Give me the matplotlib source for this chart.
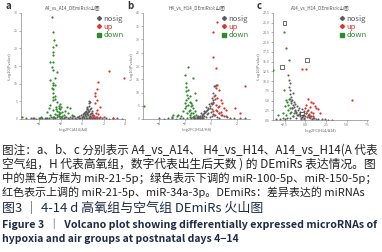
import matplotlib
matplotlib.use("Agg")
from matplotlib import pyplot as plt
from matplotlib.lines import Line2D

plt.rcParams['font.family'] = ['Noto Sans CJK SC', 'DejaVu Sans']

# colours
c_gray = '#5a5a5a'
c_up = '#e0302c'
c_down = '#2f8a2f'

# ---------- panel a : A4_vs_A14 ----------
a_down_x = [-2.82, -2.67, -2.6, -2.67, -2.4, -2.75, -2.67, -2.95, -2.75, -2.82, -2.67, -2.36,
            -2.5, -2.95, -2.75, -2.67, -2.5, -2.82, -2.67, -2.75, -2.55, -2.75, -2.67, -2.5,
            -2.36, -2.2, -2.4, -2.2, -2.05, -2.36, -2.2, -2.05, -1.9, -2.5, -2.67, -2.95,
            -3.1, -1.43, -1.1, -1.6, -1.3, -0.95, -0.81, -2.2, -1.9, -2.67, -3.8, -3.9,
            -5.6, -3.3, -2.1, -2.3, -2.0, -1.7, -3.0, -2.45, -2.15, -1.95]
a_down_y = [29.0, 24.5, 22.4, 20.5, 21.0, 19.0, 18.0, 16.2, 16.0, 14.8, 14.0, 13.4,
            11.5, 11.0, 10.1, 9.6, 9.7, 8.7, 8.5, 7.3, 6.6, 6.2, 5.4, 5.6,
            4.8, 3.7, 3.5, 3.2, 2.8, 2.4, 2.1, 1.6, 2.0, 1.5, 2.5, 3.9,
            3.0, 3.5, 3.0, 2.2, 1.8, 1.2, 0.8, 0.9, 0.8, 0.7, 0.7, 0.4,
            0.6, 2.0, 4.2, 1.0, 0.5, 1.2, 1.2, 2.9, 1.4, 3.4]
a_up_x = [2.5, 1.52, 3.9, 1.36, 1.2, 1.2, 1.36, 1.2, 1.67, 1.36, 1.05, 1.36, 1.67, 2.0, 2.9,
          0.9, 1.1, 1.25, 1.45]
a_up_y = [13.6, 10.6, 11.7, 8.4, 7.3, 6.4, 5.4, 4.4, 3.5, 2.5, 1.1, 0.6, 0.5, 0.6, 0.3,
          0.3, 0.9, 1.6, 1.3]
a_ns_x = [-5.2, -4.8, -4.5, -4.3, -4.0, -3.7, -3.5, -3.3, -3.1, -2.9, -2.7, -2.5, -2.3, -2.1,
          -1.9, -1.7, -1.5, -1.3, -1.1, -0.9, -0.7, -0.5, -0.4, -0.3, -0.2, -0.1, 0.0, 0.05,
          0.1, 0.15, 0.2, 0.25, 0.3, 0.35, 0.4, 0.45, 0.5, 0.55, 0.6, 0.65, 0.7, 0.75, 0.8,
          0.85, 0.9, 1.0, 1.1, 1.2, 1.4, 1.6, 1.9, 2.2, 2.5, 2.9, 3.3, 3.7, 0.5, 0.6, 0.7,
          0.45, 0.65, 0.55, 0.8, 0.4, 0.3, 0.75, 0.6, 0.5, 0.35, 0.9, 0.2, -0.6, -0.9, -1.2,
          -0.3, 0.0, 0.62, 0.72, 0.48, 0.58, -2.6, -2.2, -1.6, -0.8, 0.95, 1.3, -3.4, -4.6]
a_ns_y = [0.2, 0.15, 0.3, 0.1, 0.25, 0.2, 0.4, 0.15, 0.3, 0.5, 0.2, 0.35, 0.6, 0.25,
          0.4, 0.3, 0.5, 0.2, 0.6, 0.4, 0.3, 0.7, 0.5, 0.9, 0.4, 1.1, 0.6, 1.4,
          0.8, 1.7, 0.5, 1.2, 2.0, 0.9, 2.4, 1.5, 3.0, 1.0, 3.7, 2.2, 2.7, 1.3, 1.8,
          0.7, 1.0, 0.5, 0.4, 0.3, 0.2, 0.35, 0.15, 0.25, 0.1, 0.2, 0.15, 0.1, 0.3, 0.6, 0.4,
          2.8, 4.4, 2.0, 3.2, 1.9, 1.4, 0.9, 0.2, 1.7, 0.3, 1.6, 0.2, 0.1, 0.25, 0.1,
          0.2, 0.3, 5.2, 4.9, 3.4, 2.6, 0.6, 0.8, 0.7, 0.9, 2.2, 0.6, 0.4, 0.3]

# ---------- panel b : H4_vs_H14 ----------
b_down_x = [-1.75, -2.0, -1.375, -1.88, -1.93, -1.75, -1.88, -1.8, -1.63, -1.75, -1.88, -1.63,
            -1.5, -1.75, -1.5, -1.38, -1.63, -1.88, -2.0, -1.38, -1.25, -1.13, -1.63, -2.13,
            -2.25, -2.63, -2.88, -3.0, -2.5, -1.13, -1.25, -5.15, -1.55, -1.7, -1.45, -1.95,
            -1.3, -1.6, -1.4, -1.85]
b_down_y = [19.5, 16.6, 15.4, 13.5, 12.0, 11.0, 10.4, 9.1, 8.5, 7.9, 7.3, 6.6,
            6.0, 5.4, 4.8, 4.1, 3.5, 4.8, 6.0, 2.3, 2.9, 1.6, 1.6, 2.9,
            1.0, 1.0, 1.6, 0.8, 1.6, 7.2, 9.8, 5.0, 2.4, 3.0, 5.3, 4.1,
            1.1, 0.6, 0.9, 2.1]
b_up_x = [0.5, 0.18, 0.18, 0.38, 2.58, 0.5, 0.38, 0.63, 0.25, 0.5, 0.75, 0.13, 0.38, 0.63, 0.88,
          1.0, 1.13, 0.38, 0.63, 0.88, 1.13, 1.88, 2.25, 0.13, 0.25, 0.8, 0.55]
b_up_y = [36.6, 32.9, 23.5, 19.1, 12.5, 12.9, 11.6, 11.0, 8.5, 7.9, 7.3, 6.0, 5.4, 4.8, 6.0,
          4.1, 3.5, 3.5, 2.3, 1.6, 1.0, 4.1, 2.3, 2.9, 1.6, 2.7, 4.4]
b_ns_x = [0.33, 0.25, 0.4, 0.15, 0.3, 0.1, 0.2, 0.0, 0.05, -0.1, -0.2, -0.3, -0.4, -0.5,
          -0.6, -0.7, -0.8, -0.9, -1.0, -1.1, -1.2, -1.3, -0.75, -0.55, -0.35, -0.15, -0.65,
          -0.45, -0.25, -0.05, 0.15, 0.35, 0.5, 0.65, 0.8, 1.0, 1.2, 1.5, 1.8, 2.2, 2.6, -1.5,
          -1.8, -2.1, -2.4, -2.7, -3.0, -3.3, -3.6, -4.0, -0.85, -0.7, -0.6, -0.95, -0.5, -0.3,
          -0.2, 0.0, 0.1, -0.4, 0.05, 0.2, -0.1, -0.8, -1.05, -0.65, 0.3, 0.45, -1.4, 0.6]
b_ns_y = [12.6, 12.3, 12.8, 9.8, 9.0, 7.9, 7.0, 6.2, 5.5, 4.8, 4.0, 3.4, 2.9, 2.3,
          1.8, 1.4, 1.0, 0.7, 0.5, 0.4, 0.3, 0.2, 2.1, 3.2, 4.4, 5.6, 1.2,
          2.6, 3.8, 4.2, 6.5, 7.6, 3.0, 2.2, 1.6, 1.0, 0.7, 0.5, 0.4, 0.3, 0.2, 0.3,
          0.2, 0.4, 0.3, 0.15, 0.3, 0.2, 0.1, 0.2, 0.4, 0.9, 0.5, 1.3, 1.1, 1.7,
          2.4, 2.8, 3.6, 0.6, 1.2, 1.9, 0.9, 0.2, 0.8, 0.3, 1.4, 0.8, 0.6, 0.5]

# ---------- panel c : A14_vs_H14 ----------
c_box_x = [-2.5, -2.82, 0.2, -0.36]
c_box_y = [24.9, 13.6, 15.5, 1.7]
c_down_x = [-2.62, -2.38, -1.97, -3.9, -2.58, -2.38, -2.0, -2.1, -2.5, -2.7, -3.3, -2.3,
            -1.9, -1.7, -2.1, -1.5, -2.2, -1.8]
c_down_y = [22.6, 18.5, 15.5, 12.8, 7.7, 5.1, 5.5, 3.8, 3.6, 1.7, 1.3, 1.3,
            1.7, 2.1, 2.6, 1.0, 4.5, 3.0]
c_up_x = [-0.36, 0.04, 5.7, 0.32, 0.73, 0.93, 0.12, 0.53, 1.13, 1.33, 0.32, 0.73, 0.0, 1.53,
          1.73, 0.93, 0.12, 0.6, 1.0, 0.4]
c_up_y = [13.0, 13.0, 5.1, 5.5, 4.7, 4.3, 3.8, 3.4, 3.6, 3.0, 2.6, 2.1, 3.0, 2.8,
          1.7, 1.7, 1.7, 0.9, 1.1, 0.7]
c_ns_x = [-2.1, -1.97, -1.89, -1.97, -1.89, -1.81, -1.69, -1.89, -1.57, -1.69, -1.49, -1.41,
          -1.57, -1.29, -1.17, -1.09, -0.89, -1.49, -0.69, -0.28, -1.09, -1.89, -2.5, -3.1,
          -0.5, -0.4, -0.2, 0.0, 0.2, 0.4, 0.6, 0.8, 1.0, 1.3, 1.6, 2.0, 2.4, 2.8, -0.8,
          -1.2, -0.6, -0.3, -0.1, 0.1, 0.3, 0.5, -0.7, -0.9, -1.0, -1.3, -0.45, -0.15, 0.25,
          -1.35, -1.55, -1.7, -0.95, -0.55, 0.7, 1.1, -2.2, -2.7, -3.5, 3.2, -1.2, -1.45]
c_ns_y = [11.5, 10.2, 9.4, 8.5, 7.7, 6.8, 6.0, 5.5, 5.1, 4.3, 3.8, 3.4,
          3.0, 2.6, 2.1, 1.7, 1.3, 0.9, 0.9, 1.1, 0.4, 0.4, 0.3, 0.2,
          0.5, 0.8, 0.6, 1.0, 0.7, 0.9, 0.5, 0.3, 0.4, 0.2, 0.3, 0.15, 0.2, 0.1, 1.6,
          2.2, 2.0, 1.4, 2.4, 1.8, 1.2, 1.6, 3.0, 2.5, 3.5, 1.9, 2.9, 0.3, 2.3,
          4.6, 3.2, 5.0, 1.3, 0.2, 1.0, 0.6, 0.6, 0.4, 0.2, 0.1, 4.0, 7.0]

panels = [
    dict(tag='a', title='A4_vs_A14_DEmiRs火山图', xlabel='Log2FC(A14/A4)',
         rect=[21, 13, 125, 119], xlim=(-5.7, 4.0), ylim=(0, 30),
         xticks=[-4, -2, 0, 2, 4], yticks=[0, 5, 10, 15, 20, 25, 30],
         ns=(a_ns_x, a_ns_y), up=(a_up_x, a_up_y), down=(a_down_x, a_down_y), box=None),
    dict(tag='b', title='H4_vs_H14_DEmiRs火山图', xlabel='Log2FC(H14/H4)',
         rect=[143, 13, 250, 119], xlim=(-5.2, 3.0), ylim=(0, 40),
         xticks=[-4, -2, 0, 2], yticks=[0, 5, 10, 15, 20, 25, 30, 35, 40],
         ns=(b_ns_x, b_ns_y), up=(b_up_x, b_up_y), down=(b_down_x, b_down_y), box=None),
    dict(tag='c', title='A14_vs_H14_DEmiRs火山图', xlabel='Log2FC(H14/A14)',
         rect=[273, 13, 368, 120], xlim=(-3.9, 7.6), ylim=(0, 27.5),
         xticks=[-2.5, 0, 2.5, 5, 7.5], yticks=[0, 2.5, 5, 7.5, 10, 12.5, 15, 17.5, 20, 22.5, 25, 27.5],
         ns=(c_ns_x, c_ns_y), up=(c_up_x, c_up_y), down=(c_down_x, c_down_y),
         box=(c_box_x, c_box_y)),
]

W, H = 382, 252
fig = plt.figure(figsize=(W / 100, H / 100), dpi=100)

for p in panels:
    l, t, r, b = p['rect']
    ax = fig.add_axes([l / W, 1 - b / H, (r - l) / W, (b - t) / H])
    ax.scatter(*p['ns'], s=2.2, c=c_gray, linewidths=0, zorder=2)
    ax.scatter(*p['down'], s=2.6, c=c_down, linewidths=0, zorder=3)
    ax.scatter(*p['up'], s=2.6, c=c_up, linewidths=0, zorder=3)
    if p['box'] is not None:
        ax.scatter(*p['box'], s=7, marker='s', facecolors='none', edgecolors='#333333',
                   linewidths=0.5, zorder=4)
    ax.set_xlim(*p['xlim'])
    ax.set_ylim(*p['ylim'])
    ax.set_xticks(p['xticks'])
    ax.set_yticks(p['yticks'])
    ax.tick_params(labelsize=2.5, length=1.5, width=0.4, colors='#777777', pad=1)
    for s in ['top', 'right']:
        ax.spines[s].set_visible(False)
    for s in ['left', 'bottom']:
        ax.spines[s].set_linewidth(0.5)
        ax.spines[s].set_color('#888888')
    ax.set_xlabel(p['xlabel'], fontsize=2.8, color='#666666', labelpad=1)
    ax.set_ylabel('-Log10(Pvalue)', fontsize=2.8, color='#666666', labelpad=1)
    ax.set_title(p['title'], fontsize=3.3, color='#555555', pad=3)
    fig.text((l - 16) / W, 1 - 6 / H, p['tag'], fontsize=7, fontweight='bold',
             color='#333333', va='center')
    handles = [Line2D([], [], marker='P', ls='', color=c_gray, ms=2.5),
               Line2D([], [], marker='P', ls='', color=c_up, ms=2.5),
               Line2D([], [], marker='s', ls='', color=c_down, ms=2.2)]
    leg = ax.legend(handles, ['nosig', 'up', 'down'], loc='upper right', frameon=False,
                    fontsize=5.5, handletextpad=0.1, labelspacing=0.05, borderpad=0.1,
                    borderaxespad=0.1, handlelength=1.0)
    for txt, col in zip(leg.get_texts(), [c_gray, c_up, c_down]):
        txt.set_color(col)

# caption text, each line stretched to the width it takes in the source
cap_lines = [
    '图注：a、b、c 分别表示 A4_vs_A14、 H4_vs_H14、A14_vs_H14(A 代表',
    '空气组，H 代表高氧组，数字代表出生后天数 ) 的 DEmiRs 表达情况。图',
    '中的黑色方框为 miR-21-5p；绿色表示下调的 miR-100-5p、miR-150-5p；',
    '红色表示上调的 miR-21-5p、miR-34a-3p。DEmiRs：差异表达的 miRNAs',
    '图3 ｜ 4-14 d 高氧组与空气组 DEmiRs 火山图',
    'Figure 3  ｜  Volcano plot showing differentially expressed microRNAs of',
    'hypoxia and air groups at postnatal days 4−14',
]
cap_y = [150, 164, 178, 192, 208, 224, 239]
cap_right = [378, 378, 377, 365, 264, 376, 238]
cap_weight = ['normal'] * 4 + ['medium', 'bold', 'bold']
cap_color = ['#222222'] * 4 + ['#1d2b45'] * 3

texts = []
for s, y, w, c in zip(cap_lines, cap_y, cap_weight, cap_color):
    texts.append(fig.text(2 / W, 1 - y / H, s, fontsize=8, color=c, va='center',
                          fontweight=w))
fig.canvas.draw()
renderer = fig.canvas.get_renderer()
for t, right in zip(texts, cap_right):
    width = t.get_window_extent(renderer).width
    t.set_fontsize(8 * (right - 2) / width)

fig.savefig('out.png', dpi=100)
